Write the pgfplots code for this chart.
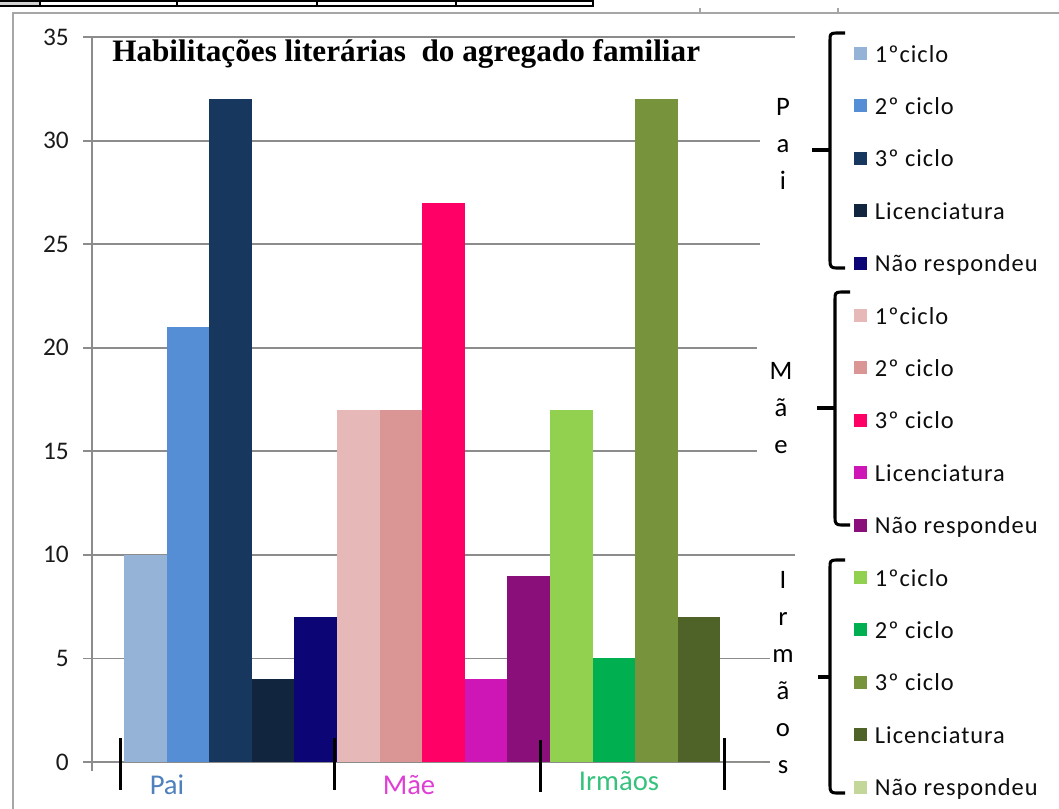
\documentclass[border=0pt]{standalone}
\usepackage{pgfplots}
\pgfplotsset{compat=1.18}
\usepackage{fontspec}
\setmainfont{Carlito}
\newfontfamily\titlefont{Liberation Serif}
\newfontfamily\legfont[LetterSpace=4]{Carlito}

\definecolor{gridgray}{HTML}{8C8C8C}
\definecolor{framegray}{HTML}{A6A6A6}
\definecolor{ticktext}{HTML}{1A1A1A}
% Pai
\definecolor{pA}{HTML}{95B3D7}
\definecolor{pB}{HTML}{558ED5}
\definecolor{pC}{HTML}{17375E}
\definecolor{pD}{HTML}{11253F}
\definecolor{pE}{HTML}{0C0575}
% Mae
\definecolor{mA}{HTML}{E6B9B8}
\definecolor{mB}{HTML}{D99694}
\definecolor{mC}{HTML}{FF0066}
\definecolor{mD}{HTML}{CE16B6}
\definecolor{mE}{HTML}{8A0F7B}
% Irmaos
\definecolor{iA}{HTML}{92D050}
\definecolor{iB}{HTML}{00B050}
\definecolor{iC}{HTML}{77933C}
\definecolor{iD}{HTML}{4F6228}
\definecolor{iE}{HTML}{C4D79B}
% labels
\definecolor{labPai}{HTML}{4F81BD}
\definecolor{labMae}{HTML}{DE3FD4}
\definecolor{labIrm}{HTML}{35C27C}

\pgfplotsset{
  mybar/.style={ybar, bar width=1, draw=none, fill=#1,
    legend image code/.code={\fill[#1] (0pt,1.5pt) rectangle (9.75pt,11.25pt);}},
}

\begin{document}
\begin{tikzpicture}
\useasboundingbox (0,0) rectangle (794.25pt,-606.75pt);
\begin{axis}[
  at={(69pt,-571.5pt)}, anchor=south west,
  scale only axis, width=527.25pt, height=543.75pt,
  xmin=-1.25, xmax=15.25, ymin=0, ymax=35,
  ytick={0,5,...,35}, xtick={-1.25}, xticklabels={},
  axis x line*=bottom, axis y line*=left,
  axis line style={draw=gridgray, line width=1.4pt},
  ymajorgrids, grid style={draw=gridgray, line width=1.4pt},
  tick align=outside, major tick length=6.75pt,
  tick style={draw=gridgray, line width=1.4pt},
  yticklabel style={font=\fontsize{19}{22}\selectfont, text=ticktext, inner sep=0pt, xshift=-10.5pt},
  /pgf/number format/assume math mode=true,
  legend style={at={(1.0839,0.98759)}, anchor=north west, draw=none, fill=none,
    inner sep=0pt, outer sep=0pt, row sep=23.3pt, column sep=6pt,
    font=\legfont\fontsize{18.3}{22}\selectfont,
    cells={anchor=base west},
    nodes={inner sep=0pt, text height=12pt, text depth=4pt, text=black!95}},
]
\addplot[mybar=pA] coordinates {(0,10)};  \addlegendentry{1ºciclo}
\addplot[mybar=pB] coordinates {(1,21)};  \addlegendentry{2º ciclo}
\addplot[mybar=pC] coordinates {(2,32)};  \addlegendentry{3º ciclo}
\addplot[mybar=pD] coordinates {(3,4)};   \addlegendentry{Licenciatura}
\addplot[mybar=pE] coordinates {(4,7)};   \addlegendentry{Não respondeu}
\addplot[mybar=mA] coordinates {(5,17)};  \addlegendentry{1ºciclo}
\addplot[mybar=mB] coordinates {(6,17)};  \addlegendentry{2º ciclo}
\addplot[mybar=mC] coordinates {(7,27)};  \addlegendentry{3º ciclo}
\addplot[mybar=mD] coordinates {(8,4)};   \addlegendentry{Licenciatura}
\addplot[mybar=mE] coordinates {(9,9)};   \addlegendentry{Não respondeu}
\addplot[mybar=iA] coordinates {(10,17)}; \addlegendentry{1ºciclo}
\addplot[mybar=iB] coordinates {(11,5)};  \addlegendentry{2º ciclo}
\addplot[mybar=iC] coordinates {(12,32)}; \addlegendentry{3º ciclo}
\addplot[mybar=iD] coordinates {(13,7)};  \addlegendentry{Licenciatura}
\addplot[mybar=iE] coordinates {(14,0)};  \addlegendentry{Não respondeu}
\end{axis}

\begin{scope}[x=0.75pt, y=-0.75pt]
  % white boxes behind vertical labels
  \fill[white] (760,46) rectangle (800,285);
  \fill[white] (757,290) rectangle (800,540);
  \fill[white] (770,562) rectangle (800,809);
  % vertical labels
  \node[align=center, inner sep=0pt, font=\fontsize{20}{27.75}\selectfont] at (783,144) {P\\a\\i};
  \node[align=center, inner sep=0pt, font=\fontsize{20}{27.75}\selectfont] at (781,408) {M\\ã\\e};
  \node[align=center, inner sep=0pt, font=\fontsize{20}{27.75}\selectfont] at (783,673) {I\\r\\m\\ã\\o\\s};
  % braces
  \begin{scope}[line width=2.3pt]
    \draw (845,33) -- (836,33) .. controls (830,33) and (830,35) .. (830,40) -- (830,261) .. controls (830,266) and (831,268) .. (836,268) -- (845,268);
    \draw (830,150) -- (812,150);
    \draw (850,292) -- (841,292) .. controls (835,292) and (835,294) .. (835,299) -- (835,518) .. controls (835,523) and (836,525) .. (841,525) -- (850,525);
    \draw (835,408) -- (817,408);
    \draw (845,560) -- (836,560) .. controls (830,560) and (830,562) .. (830,567) -- (830,786) .. controls (830,791) and (831,793) .. (836,793) -- (845,793);
    \draw (830,677) -- (818,677);
  \end{scope}
  % title
  \node[anchor=base west, inner sep=0pt, font=\titlefont\bfseries\fontsize{23.4}{26}\selectfont] at (112,62) {Habilitações literárias\ \ do agregado familiar};
  % category labels
  \node[anchor=base, inner sep=0pt, text=labPai, font=\fontsize{21.5}{24}\selectfont] at (167,794) {Pai};
  \node[anchor=base, inner sep=0pt, text=labMae, font=\fontsize{21.5}{24}\selectfont] at (409,794) {Mãe};
  \node[anchor=base, inner sep=0pt, text=labIrm, font=\fontsize{21.5}{24}\selectfont] at (619,790) {Irmãos};
  % separators
  \begin{scope}[line width=2.25pt]
    \draw (120,738) -- (120,790);
    \draw (334,738) -- (334,790);
    \draw (540,740) -- (540,792);
    \draw (724,738) -- (724,790);
  \end{scope}
  % outer frame
  \draw[framegray, line width=1.5pt] (13,809) -- (13,13) -- (1059,13);
  \draw[framegray, line width=1pt] (700,13) -- (700,8);
  \draw[framegray, line width=1pt] (838,13) -- (838,8);
  % top strip (spreadsheet cells)
  \fill[gray!35] (0,0) rectangle (40,6);
  \draw[black, line width=1.5pt] (0,0.8) -- (593,0.8) -- (593,6) -- (0,6);
  \foreach \xx in {40,177,317,456} \draw[black, line width=1.5pt] (\xx,0) -- (\xx,6);
\end{scope}
\end{tikzpicture}
\end{document}
